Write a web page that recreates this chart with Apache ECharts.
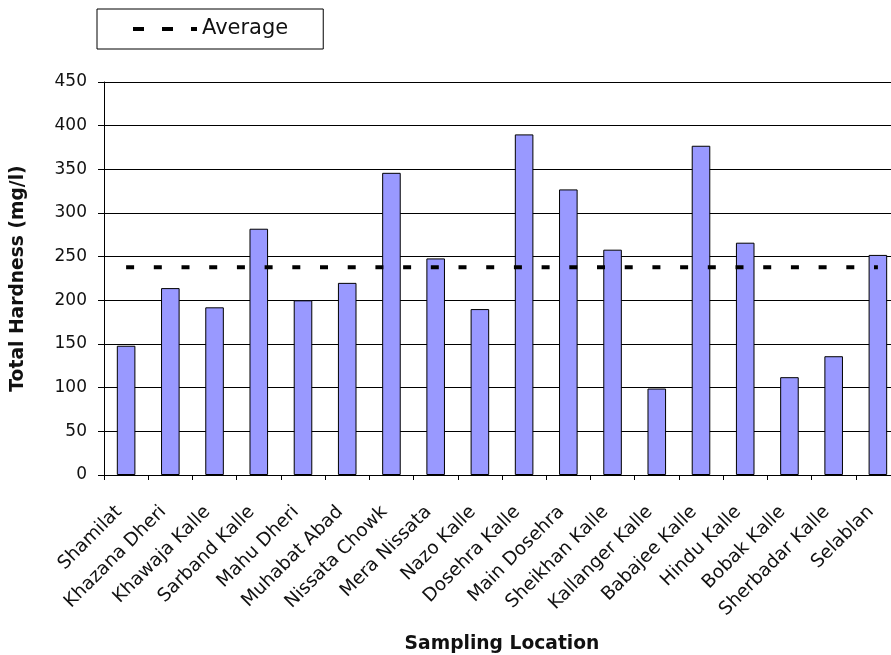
<!DOCTYPE html>
<html>
<head>
<meta charset="utf-8">
<title>Total Hardness by Sampling Location</title>
<script src="https://cdn.jsdelivr.net/npm/echarts@6/dist/echarts.min.js"></script>
<style>
  html, body { margin: 0; padding: 0; background: #fff; overflow: hidden; }
  #chart { width: 900px; height: 655px; }
</style>
</head>
<body>
<div id="chart"></div>
<script>
// Sampling locations along the x axis
const categories = [
  'Shamilat', 'Khazana Dheri', 'Khawaja Kalle', 'Sarband Kalle', 'Mahu Dheri',
  'Muhabat Abad', 'Nissata Chowk', 'Mera Nissata', 'Nazo Kalle', 'Dosehra Kalle',
  'Main Dosehra', 'Sheikhan Kalle', 'Kallanger Kalle', 'Babajee Kalle', 'Hindu Kalle',
  'Bobak Kalle', 'Sherbadar Kalle', 'Selablan'
];

// Total hardness (mg/l) measured at each location
const hardness = [148, 214, 192, 282, 200, 220, 346, 248, 190, 390, 327, 258, 99, 377, 266, 112, 136, 252];

// Average hardness, plotted as a dashed line across all locations
const averageLine = [238, 238, 238, 238, 238, 238, 238, 238, 238, 238, 238, 238, 238, 238, 238, 238, 238, 238];

// Value axis range
const yMin = 0;
const yMax = 450;
const yStep = 50;

const FONT = '"DejaVu Sans", Verdana, sans-serif';

const chart = echarts.init(document.getElementById('chart'), null, { renderer: 'canvas' });

chart.setOption({
  animation: false,
  backgroundColor: '#ffffff',
  legend: {
    data: ['Average'],
    left: 97,
    top: 9,
    orient: 'horizontal',
    padding: [9, 35, 9, 34],
    borderColor: '#000',
    borderWidth: 1,
    itemWidth: 64,
    itemHeight: 14,
    itemGap: 6,
    textStyle: { fontFamily: FONT, fontSize: 21, color: '#111', lineHeight: 22 },
    // the dashed stroke only, no point marker
    itemStyle: { opacity: 0 },
    lineStyle: { type: [11, 18], width: 4, color: '#000', cap: 'butt' },
    selectedMode: false
  },
  grid: {
    left: 104,
    right: 0,
    top: 82,
    bottom: 180,
    containLabel: false,
    outerBoundsMode: 'none'
  },
  xAxis: {
    type: 'category',
    data: categories,
    boundaryGap: true,
    name: 'Sampling Location',
    nameLocation: 'middle',
    nameGap: 160,
    nameTextStyle: { fontFamily: FONT, fontSize: 18.7, fontWeight: 'bold', color: '#111' },
    axisLine: { show: true, lineStyle: { color: '#000', width: 1 } },
    axisTick: { show: true, alignWithLabel: false, length: 5, lineStyle: { color: '#000' } },
    axisLabel: {
      rotate: 45,
      margin: 27,
      interval: 0,
      padding: [0, 10, 0, 0],
      fontFamily: FONT,
      fontSize: 18.5,
      color: '#111'
    },
    splitLine: { show: false }
  },
  yAxis: {
    type: 'value',
    min: yMin,
    max: yMax,
    interval: yStep,
    name: 'Total Hardness (mg/l)',
    nameLocation: 'middle',
    nameRotate: 90,
    nameGap: 76,
    nameTextStyle: { fontFamily: FONT, fontSize: 18.7, fontWeight: 'bold', color: '#111' },
    axisLine: { show: true, lineStyle: { color: '#000', width: 1 } },
    axisTick: { show: true, inside: false, length: 6, lineStyle: { color: '#000' } },
    axisLabel: { margin: 17, fontFamily: FONT, fontSize: 17, color: '#111' },
    splitLine: { show: true, lineStyle: { color: '#000', width: 1 } }
  },
  series: [
    {
      name: 'Total Hardness',
      type: 'bar',
      data: hardness,
      barWidth: '42%',
      itemStyle: { color: '#9999FF', borderColor: '#000', borderWidth: 1 },
      z: 2
    },
    {
      name: 'Average',
      type: 'line',
      data: averageLine,
      symbol: 'none',
      showSymbol: false,
      itemStyle: { color: '#000' },
      lineStyle: { color: '#000', width: 4, type: [8, 19.7], cap: 'butt' },
      z: 3
    }
  ]
});
</script>
</body>
</html>
